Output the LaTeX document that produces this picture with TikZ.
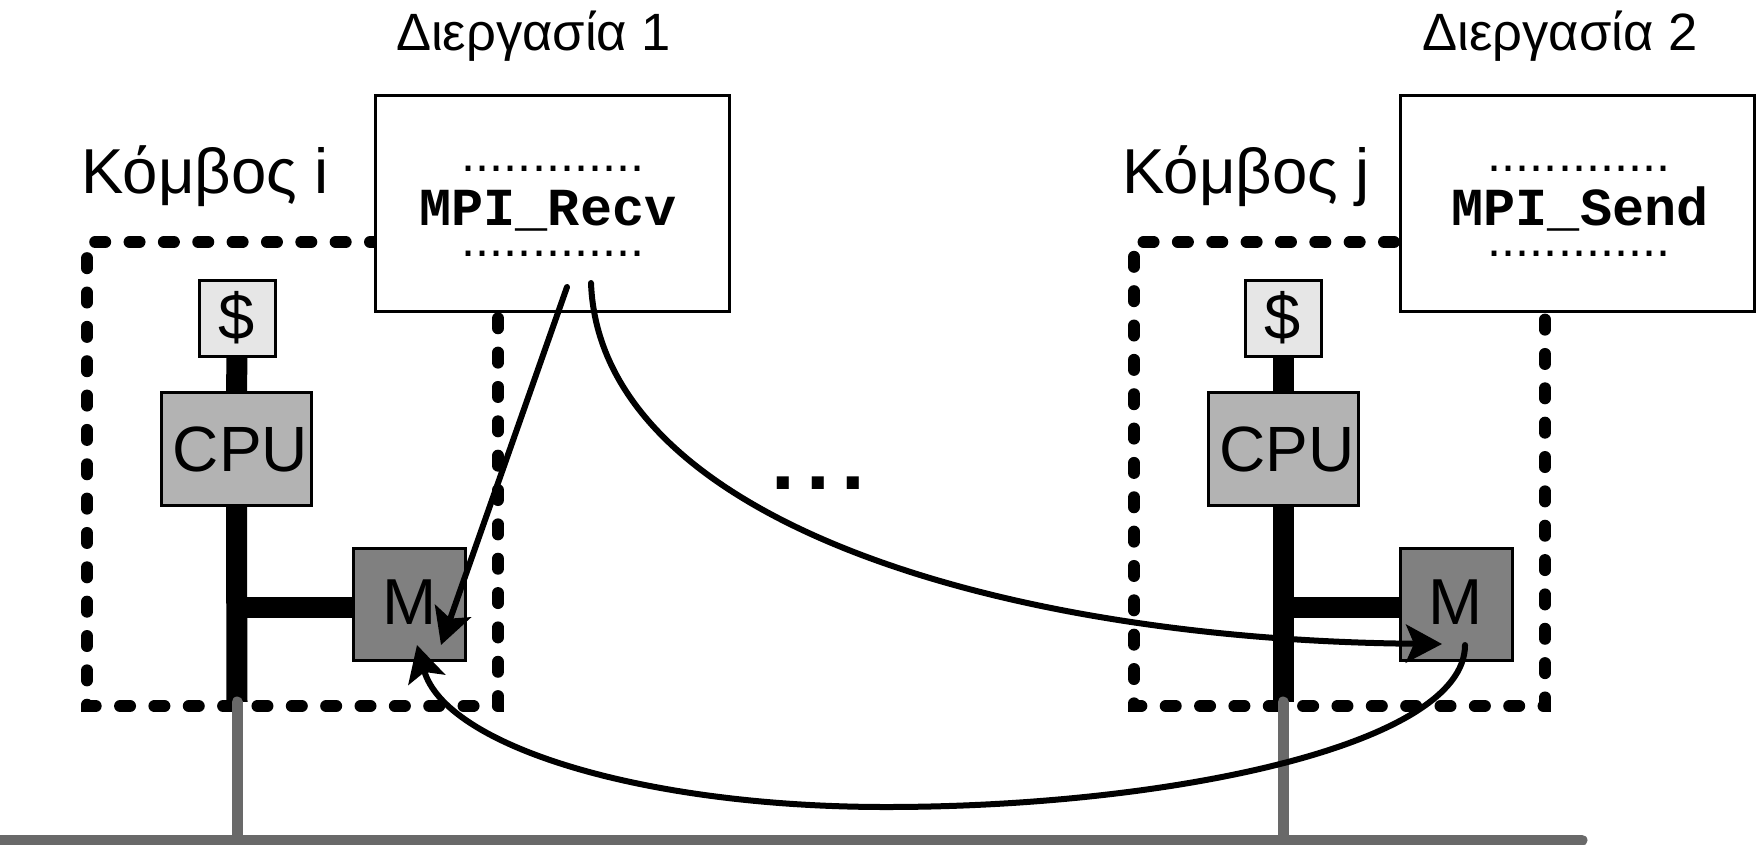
\documentclass[tikz,border=0pt]{standalone}
\usepackage{fontspec}
\setmainfont{Liberation Sans}
\newfontfamily\codefont{Liberation Mono}[BoldFont={Liberation Mono Bold}]
\usetikzlibrary{arrows.meta, calc}

\definecolor{cachegray}{HTML}{E6E6E6}
\definecolor{cpugray}{HTML}{B3B3B3}
\definecolor{memgray}{HTML}{808080}
\definecolor{netgray}{HTML}{696969}

\begin{document}
\begin{tikzpicture}[x=1pt, y=-1pt]
 \tikzstyle{proc}=[rectangle, draw, line width=3pt, fill=white, minimum width=354pt, minimum height=216pt, inner sep=0pt]
 \tikzstyle{cache}=[rectangle, draw, line width=3pt, fill=cachegray, minimum width=76pt, minimum height=76pt, inner sep=0pt, font=\fontsize{65}{65}\selectfont]
 \tikzstyle{cpu}=[rectangle, draw, line width=3pt, fill=cpugray, minimum width=150pt, minimum height=113pt, inner sep=0pt, font=\fontsize{64}{64}\selectfont]
 \tikzstyle{mem}=[rectangle, draw, line width=3pt, fill=memgray, minimum width=112pt, minimum height=112pt, inner sep=0pt, font=\fontsize{65}{65}\selectfont]
 \tikzstyle{nodelabel}=[anchor=base, inner sep=0pt, font=\fontsize{63.5}{64}\selectfont]
 \tikzstyle{proclabel}=[anchor=base, inner sep=0pt, font=\fontsize{52.5}{53}\selectfont]
 \tikzstyle{code}=[anchor=base, inner sep=0pt, font=\codefont\bfseries\fontsize{53.5}{54}\selectfont]
 \tikzstyle{dotline}=[anchor=base, inner sep=0pt, font=\fontsize{50.5}{51}\selectfont]
 \tikzstyle{nodeborder}=[line width=12pt, line cap=round, dash pattern=on 10pt off 24.35pt]
 \tikzstyle{bus}=[line width=21pt]
 \tikzstyle{net}=[line width=11pt, color=netgray, line cap=round]
 \tikzstyle{arr}=[-{Stealth[length=36pt, width=38pt, inset=8pt]}, line width=6pt, line cap=round]

 \useasboundingbox (0,0) rectangle (1758,844);

 % Node borders
 \draw [nodeborder, dash phase=5pt] (375,242) -- (87,242) -- (87,706) -- (498,706) -- (498,311);
 \draw [nodeborder, dash phase=29.35pt] (1399,242) -- (1134,242) -- (1134,706) -- (1545,706) -- (1545,311);

 % Main boxes
 \node (nproci) at (552.5,203) [proc] {};
 \node (nprocj) at (1577,203) [proc] {};

 \node (ncachei) at (237,318) [cache] {\$};
 \node (ncpui) at (236.5,449) [cpu] {\kern8pt CPU};
 \node (nmemi) at (409.5,604) [mem] {\raisebox{3pt}{M}};
 \coordinate (nbusi) at (237,607.5);
 \coordinate (nendi) at (237,702);

 \node (ncachej) at (1283,318) [cache] {\$};
 \node (ncpuj) at (1283,449) [cpu] {\kern8pt CPU};
 \node (nmemj) at (1456,604) [mem] {\raisebox{3pt}{M}};
 \coordinate (nbusj) at (1283,607.5);
 \coordinate (nendj) at (1283,702);

 % Labels
 \node (nlabproci) at (533.5,50) [proclabel] {Διεργασία 1};
 \node (nlabprocj) at (1560,50) [proclabel] {Διεργασία 2};
 \node (nlabi) at (205,193) [nodelabel] {Κόμβος i};
 \node (nlabj) at (1246,193) [nodelabel] {Κόμβος j};

 \node (ndotsia) at (553,171) [dotline] {.............};
 \node (nrecv) at (548,225) [code] {MPI\_Recv};
 \node (ndotsib) at (553,256) [dotline] {.............};
 \node (ndotsja) at (1579,171) [dotline] {.............};
 \node (nsend) at (1580,225) [code] {MPI\_Send};
 \node (ndotsjb) at (1579,256) [dotline] {.............};

 \node (nmore) at (818,489) [anchor=base, inner sep=0pt, font=\bfseries\fontsize{85}{85}\selectfont] {.\kern11.4pt.\kern11.4pt.};

 % Buses
 \draw [bus] (ncachei.south) -- (ncpui.north);
 \draw [bus] (ncpui.south) -- (nendi);
 \draw [bus] ($ (nbusi) - (10,0) $) -- (nmemi.west |- nbusi);
 \draw [bus] (ncachej.south) -- (ncpuj.north);
 \draw [bus] (ncpuj.south) -- (nendj);
 \draw [bus] ($ (nbusj) - (10,0) $) -- (nmemj.west |- nbusj);

 % Network
 \coordinate (nnetstart) at (-10,840);
 \coordinate (nnetend) at (1582,840);
 \coordinate (nneti) at (237,840);
 \coordinate (nnetj) at (1283,840);
 \draw [net] (nnetstart) -- (nnetend);
 \draw [net] (nendi) -- (nneti);
 \draw [net] (nendj) -- (nnetj);

 % Arrows
 \coordinate (nrecvcall) at (567,287);
 \coordinate (nrecvtip) at (441,645);
 \coordinate (nrecvcopy) at (591,283);
 \coordinate (nsendtip) at (1442,644);
 \coordinate (nsendcopy) at (1465,645);
 \coordinate (nmidcopy) at (886,807);
 \coordinate (nmemtip) at (417,645);
 \draw [arr] (nrecvcall) -- (nrecvtip);
 \draw [arr] (nrecvcopy) .. controls (600,520) and (1000,640) .. (nsendtip);
 \draw [arr] (nsendcopy) .. controls (1465,745) and (1170,807) .. (nmidcopy) .. controls (640,807) and (445,745) .. (nmemtip);

\end{tikzpicture}
\end{document}
